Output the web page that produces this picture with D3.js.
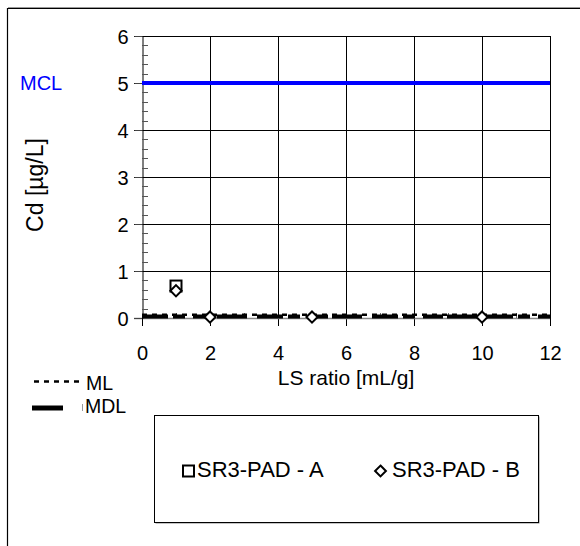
<!DOCTYPE html>
<html><head><meta charset="utf-8">
<script src="https://cdnjs.cloudflare.com/ajax/libs/d3/7.8.5/d3.min.js"></script>
<style>body{margin:0;background:#fff}svg{display:block;font-family:"Liberation Sans",Arial,sans-serif}</style>
</head><body><svg id="c" width="580" height="546"></svg>
<script>
const xTicks = [0, 2, 4, 6, 8, 10, 12];
const yTicks = [0, 1, 2, 3, 4, 5, 6];
const seriesA_x = [1];
const seriesA_y = [0.68];
const seriesB_x = [1, 2, 5, 10];
const seriesB_y = [0.58, 0.02, 0.02, 0.02];
const mclValue = 5;
const mlValue = 0.07;
const mdlValue = 0.03;
const lineX = [0, 12];
const seriesNames = ["SR3-PAD - A", "SR3-PAD - B"];

const FONT = "Liberation Sans, Arial, sans-serif";
const svg = d3.select("#c");
const x = d3.scaleLinear().domain([0, 12]).range([142, 550]);
const y = d3.scaleLinear().domain([0, 6]).range([318, 36]);

// outer frame
svg.append("path").attr("d","M7.5,546 V8.5 H580").attr("fill","none").attr("stroke","#000").attr("stroke-width",1.2);
svg.append("line").attr("x1",8).attr("x2",580).attr("y1",7.5).attr("y2",7.5).attr("stroke","#999").attr("stroke-width",1);

// gridlines
const g = svg.append("g");
yTicks.filter(d=>d>0).forEach(d=>{
  g.append("line").attr("x1",134).attr("x2",550).attr("y1",Math.round(y(d))+0.5).attr("y2",Math.round(y(d))+0.5)
   .attr("stroke","#000").attr("stroke-width",1);
});
xTicks.filter(d=>d>0).forEach(d=>{
  g.append("line").attr("x1",Math.round(x(d))+0.5).attr("x2",Math.round(x(d))+0.5).attr("y1",36).attr("y2",326)
   .attr("stroke","#000").attr("stroke-width",1);
});
// x axis line (gray)
g.append("line").attr("x1",134).attr("x2",550).attr("y1",318.5).attr("y2",318.5).attr("stroke","#888").attr("stroke-width",1.5);
// y axis
const yAxis = d3.axisLeft(y).tickValues(yTicks).tickSize(8).tickPadding(6).tickFormat(d3.format("d"));
const ya = svg.append("g").attr("transform","translate(142.5,0)").call(yAxis);
ya.select(".domain").attr("stroke","#000");
ya.selectAll(".tick line").attr("stroke","#444");
ya.selectAll("text").attr("font-size",20).attr("fill","#000").attr("font-family",FONT).attr("dy","0.36em");
// minor y ticks inside
const minor = d3.range(0, 6.0001, 0.2).filter(v => Math.abs(v - Math.round(v)) > 0.01);
svg.append("g").selectAll("line").data(minor).join("line")
  .attr("x1",142).attr("x2",148).attr("y1",d=>Math.round(y(d))+0.5).attr("y2",d=>Math.round(y(d))+0.5)
  .attr("stroke","#555").attr("stroke-width",1);
// x axis ticks
const xAxis = d3.axisBottom(x).tickValues(xTicks).tickSize(0).tickFormat(d3.format("d"));
const xa = svg.append("g").attr("transform","translate(0,318)").call(xAxis);
xa.select(".domain").remove();
xa.selectAll("text").attr("font-size",20).attr("fill","#000").attr("font-family",FONT).attr("y",42).attr("dy",0);
svg.append("line").attr("x1",142.5).attr("x2",142.5).attr("y1",318).attr("y2",326).attr("stroke","#000");
// minor x ticks (odd)
svg.append("g").selectAll("line").data(d3.range(1,12,2)).join("line")
  .attr("x1",d=>Math.round(x(d))+0.5).attr("x2",d=>Math.round(x(d))+0.5).attr("y1",313).attr("y2",318)
  .attr("stroke","#666");

// MCL
svg.append("line").attr("x1",x(lineX[0])).attr("x2",x(lineX[1])).attr("y1",y(mclValue)).attr("y2",y(mclValue))
  .attr("stroke","#0000ff").attr("stroke-width",4);
svg.append("text").attr("x",20).attr("y",90).attr("font-size",20).attr("fill","#0000ff").attr("font-family",FONT).text("MCL");

// MDL thick line (broken)
svg.append("line").attr("x1",x(lineX[0])).attr("x2",x(lineX[1])).attr("y1",y(mdlValue)).attr("y2",y(mdlValue))
  .attr("stroke","#000").attr("stroke-width",4).attr("stroke-dasharray","26 5 12 8 20 4 30 10");
// ML dashed
svg.append("line").attr("x1",x(lineX[0])).attr("x2",x(lineX[1])).attr("y1",y(mlValue)).attr("y2",y(mlValue))
  .attr("stroke","#000").attr("stroke-width",2.5).attr("stroke-dasharray","5 5");

// series A squares
svg.append("g").selectAll("rect").data(seriesA_x.map((d,i)=>[d,seriesA_y[i]])).join("rect")
  .attr("x",d=>x(d[0])-5.5).attr("y",d=>y(d[1])-5.5).attr("width",11).attr("height",11)
  .attr("fill","#fff").attr("stroke","#000").attr("stroke-width",2);
// series B diamonds
const dia = d3.symbol().type(d3.symbolDiamond2).size(80);
svg.append("g").selectAll("path").data(seriesB_x.map((d,i)=>[d,seriesB_y[i]])).join("path")
  .attr("d",dia).attr("transform",d=>`translate(${x(d[0])},${y(d[1])})`)
  .attr("fill","#fff").attr("stroke","#000").attr("stroke-width",2);

// axis titles
svg.append("text").attr("x",346).attr("y",385).attr("text-anchor","middle").attr("font-size",21).attr("font-family",FONT).text("LS ratio [mL/g]");
svg.append("text").attr("transform","translate(43,185) rotate(-90)").attr("text-anchor","middle").attr("font-size",23).attr("font-family",FONT).text("Cd [µg/L]");

// line legend
svg.append("line").attr("x1",34).attr("x2",80).attr("y1",381.5).attr("y2",381.5).attr("stroke","#000").attr("stroke-width",2.5).attr("stroke-dasharray","5 5");
svg.append("text").attr("x",86).attr("y",390).attr("font-size",19.5).attr("font-family",FONT).text("ML");
svg.append("line").attr("x1",32).attr("x2",63).attr("y1",408).attr("y2",408).attr("stroke","#000").attr("stroke-width",5);
svg.append("line").attr("x1",82.5).attr("x2",82.5).attr("y1",404).attr("y2",411).attr("stroke","#999");
svg.append("text").attr("x",85).attr("y",413).attr("font-size",19.5).attr("font-family",FONT).text("MDL");

// series legend box
svg.append("rect").attr("x",155.5).attr("y",416.5).attr("width",384).attr("height",107).attr("fill","#888");
svg.append("rect").attr("x",154.5).attr("y",415.5).attr("width",384).attr("height",107).attr("fill","#fff").attr("stroke","#000").attr("stroke-width",1);
svg.append("rect").attr("x",183).attr("y",465.5).attr("width",11).attr("height",11).attr("fill","#fff").attr("stroke","#000").attr("stroke-width",2);
svg.append("text").attr("x",197).attr("y",477).attr("font-size",22).attr("font-family",FONT).text(seriesNames[0]);
svg.append("path").attr("d",d3.symbol().type(d3.symbolDiamond2).size(75)).attr("transform","translate(380.5,471)")
  .attr("fill","#fff").attr("stroke","#000").attr("stroke-width",2);
svg.append("text").attr("x",392).attr("y",477).attr("font-size",22).attr("font-family",FONT).text(seriesNames[1]);
</script></body></html>
